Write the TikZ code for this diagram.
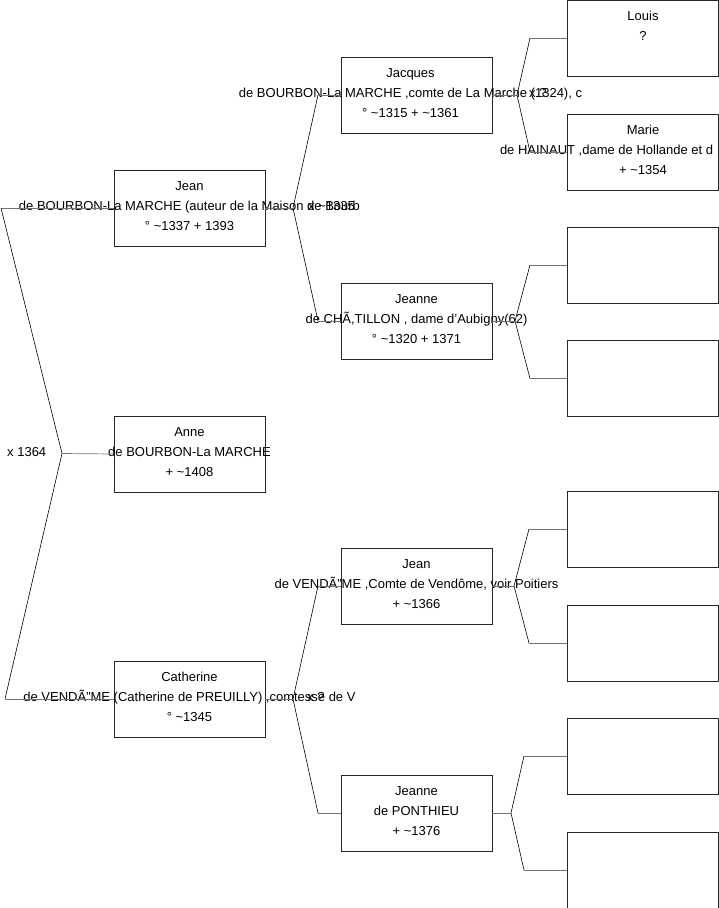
\documentclass[tikz,border=0pt]{standalone}
\usepackage{fontspec}
\setmainfont{Liberation Sans}
\usetikzlibrary{positioning}

\begin{document}
\begin{tikzpicture}[
  x=1pt, y=-1pt,
  every node/.style={font=\fontsize{13}{20}\selectfont},
  box/.style={draw=black!85, minimum width=151pt, minimum height=76pt, inner sep=0pt},
  txt/.style={align=center, inner sep=0pt, yshift=2pt},
  marriage/.style={anchor=west, inner sep=0pt},
  link/.style={draw=black!55, line width=0.7pt},
  arm/.style={draw=black, line width=0.6pt}
]
\useasboundingbox (0,0) rectangle (719,908);

% generation 1
\node[box] (jean) at (189.5,208) {};
\node[box] (anne) at (189.5,454) {};
\node[box] (catherine) at (189.5,699) {};
\node[txt] (jeanT) at (jean) {Jean\\de BOURBON-La MARCHE (auteur de la Maison de Bourb\\° \textasciitilde1337 + 1393};
\node[txt] (anneT) at (anne) {Anne\\de BOURBON-La MARCHE\\+ \textasciitilde1408};
\node[txt] (catherineT) at (catherine) {Catherine\\de VENDÃ”ME (Catherine de PREUILLY) ,comtesse de V\\° \textasciitilde1345};

% generation 2
\node[box] (jacques) at (416.5,95) {};
\node[box] (jeanneC) at (416.5,321) {};
\node[box] (jeanV) at (416.5,586) {};
\node[box] (jeanneP) at (416.5,813) {};
\node[txt, xshift=-6pt] (jacquesT) at (jacques) {Jacques\\de BOURBON-La MARCHE ,comte de La Marche (1324), c\\° \textasciitilde1315 + \textasciitilde1361};
\node[txt] (jeanneCT) at (jeanneC) {Jeanne\\de CHÃ,TILLON , dame d'Aubigny(62)\\° \textasciitilde1320 + 1371};
\node[txt] (jeanVT) at (jeanV) {Jean\\de VENDÃ”ME ,Comte de Vendôme, voir Poitiers\\+ \textasciitilde1366};
\node[txt] (jeannePT) at (jeanneP) {Jeanne\\de PONTHIEU\\+ \textasciitilde1376};

% generation 3
\node[box] (louis) at (643,38) {};
\node[box] (marie) at (643,152) {};
\node[txt] (louisT) at (louis) {Louis\\?\\\mbox{}};
\node[txt] (marieT) at (marie) {Marie\\\makebox[286pt][l]{de HAINAUT ,dame de Hollande et d}\\+ \textasciitilde1354};
\foreach \n/\y in {eC1/265, eC2/378.5, eV1/529, eV2/643, eP1/756, eP2/870}
  \node[box] (\n) at (643,\y) {};

% fork points
\coordinate (rTop) at (1,208);
\coordinate (rMid) at (62,453.5);
\coordinate (rBot) at (5,699);
\coordinate (fJean) at (293,208);
\coordinate (fJeanA) at (318,95);
\coordinate (fJeanB) at (318,321);
\coordinate (fCath) at (293,699);
\coordinate (fCathA) at (318,586);
\coordinate (fCathB) at (318,813);
\coordinate (fJac) at (517,95);
\coordinate (fJacA) at (530,38);
\coordinate (fJacB) at (530,152);
\coordinate (fJC) at (515,321);
\coordinate (fJCA) at (530,265);
\coordinate (fJCB) at (530,378.5);
\coordinate (fJV) at (514,586);
\coordinate (fJVA) at (529,529);
\coordinate (fJVB) at (529,643);
\coordinate (fJP) at (511,813);
\coordinate (fJPA) at (524,756);
\coordinate (fJPB) at (524,870);

% root
\draw[link] (rTop) -- (jean.west);
\draw[arm] (rTop) -- (rMid) -- (rBot);
\draw[link] (rMid) -- (anne.west);
\draw[link] (rBot) -- (catherine.west);
\node[marriage] (mRoot) at (7,452) {x 1364};

% Jean
\draw[link] (jean.east) -- (fJean);
\draw[arm] (fJeanA) -- (fJean) -- (fJeanB);
\draw[link] (fJeanA) -- (jacques.west);
\draw[link] (fJeanB) -- (jeanneC.west);
\node[marriage] (mJean) at (308,206) {x \textasciitilde1335};

% Catherine
\draw[link] (catherine.east) -- (fCath);
\draw[arm] (fCathA) -- (fCath) -- (fCathB);
\draw[link] (fCathA) -- (jeanV.west);
\draw[link] (fCathB) -- (jeanneP.west);
\node[marriage] (mCath) at (307,697) {x ?};

% Jacques
\draw[link] (jacques.east) -- (fJac);
\draw[arm] (fJacA) -- (fJac) -- (fJacB);
\draw[link] (fJacA) -- (louis.west);
\draw[link] (fJacB) -- (marie.west);
\node[marriage] (mJac) at (529,93) {x ?};

% Jeanne (Chatillon)
\draw[link] (jeanneC.east) -- (fJC);
\draw[arm] (fJCA) -- (fJC) -- (fJCB);
\draw[link] (fJCA) -- (eC1.west);
\draw[link] (fJCB) -- (eC2.west);

% Jean (Vendome)
\draw[link] (jeanV.east) -- (fJV);
\draw[arm] (fJVA) -- (fJV) -- (fJVB);
\draw[link] (fJVA) -- (eV1.west);
\draw[link] (fJVB) -- (eV2.west);

% Jeanne (Ponthieu)
\draw[link] (jeanneP.east) -- (fJP);
\draw[arm] (fJPA) -- (fJP) -- (fJPB);
\draw[link] (fJPA) -- (eP1.west);
\draw[link] (fJPB) -- (eP2.west);
\end{tikzpicture}
\end{document}
